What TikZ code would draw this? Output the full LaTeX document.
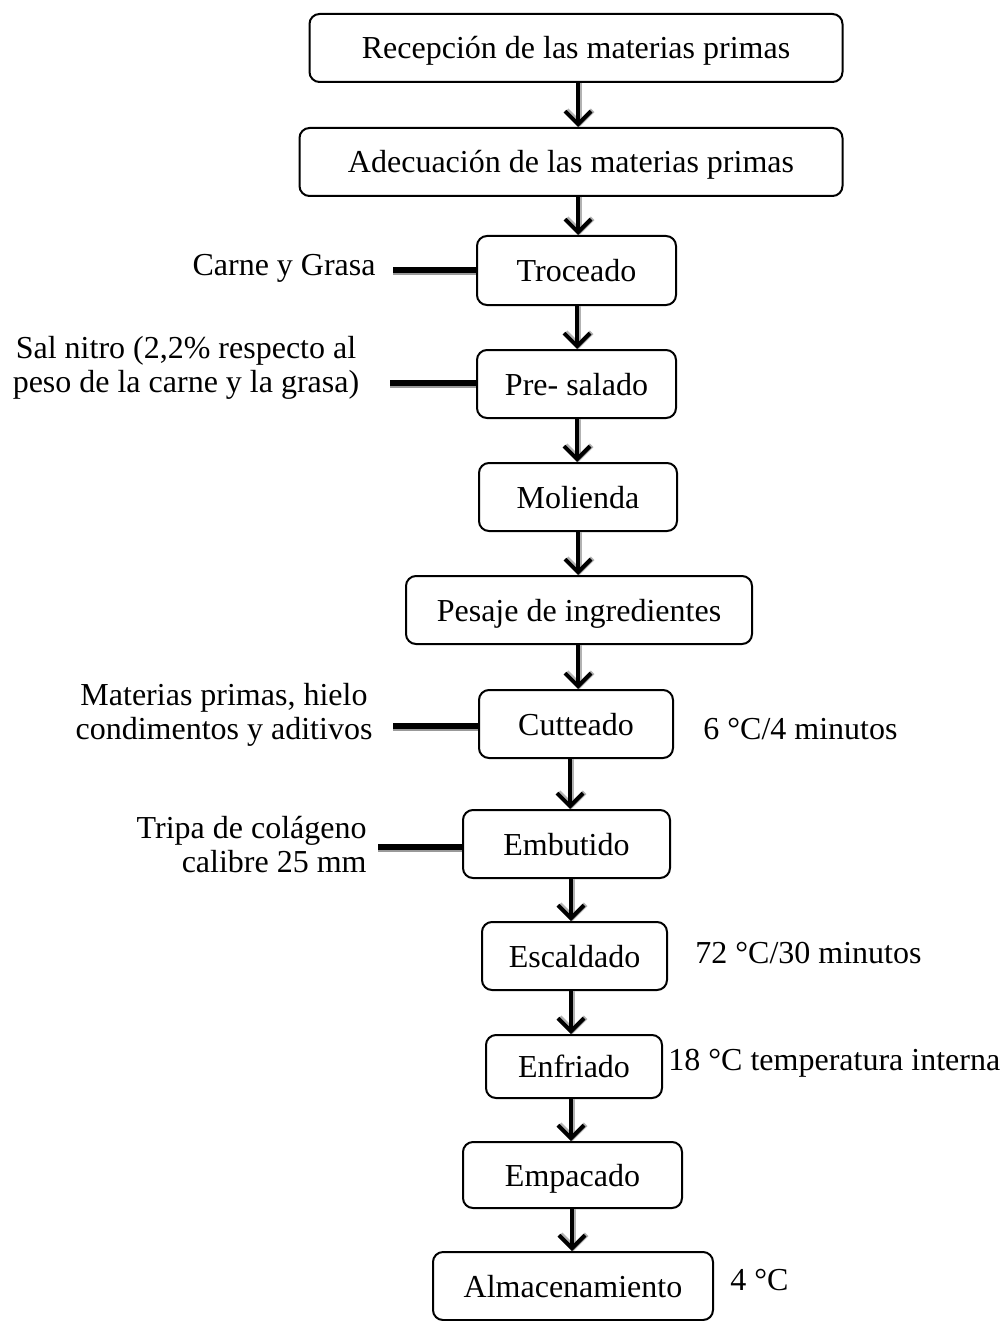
\documentclass[tikz,border=0pt]{standalone}
\usepackage{fontspec}
\setmainfont{Liberation Serif}
\usetikzlibrary{arrows.meta,calc}
\begin{document}
\begin{tikzpicture}[x=0.5pt,y=-0.5pt,
  font=\fontsize{16pt}{17pt}\selectfont,
  box/.style={draw=black, line width=1pt, rounded corners=5pt, inner sep=0pt, align=center, text height=13pt, text depth=2pt},
  arr/.style={line width=2pt, -{Straight Barb[length=6.5pt,width=13pt]}},
  arrshadow/.style={line width=2.6pt, draw=black!30, -{Straight Barb[length=6.5pt,width=13pt]}},
  feed/.style={line width=2.6pt},
  feedshadow/.style={line width=2pt, draw=black!40},
  lbl/.style={inner sep=0pt}]
\useasboundingbox (0,0) rectangle (1003,1321);
% process boxes
\node[box, minimum width=266.5pt, minimum height=34pt] (n1) at (576,48) {Recepción de las materias primas};
\node[box, minimum width=271.5pt, minimum height=34pt] (n2) at (571,162) {Adecuación de las materias primas};
\node[box, minimum width=99.5pt, minimum height=34.5pt] (n3) at (576.5,270.5) {Troceado};
\node[box, minimum width=99.5pt, minimum height=34pt] (n4) at (576.5,384) {Pre- salado};
\node[box, minimum width=99pt, minimum height=34pt] (n5) at (578,497) {Molienda};
\node[box, minimum width=173pt, minimum height=34pt] (n6) at (579,610) {Pesaje de ingredientes};
\node[box, minimum width=97pt, minimum height=34pt] (n7) at (576,724) {Cutteado};
\node[box, minimum width=103.5pt, minimum height=34pt] (n8) at (566.5,844) {Embutido};
\node[box, minimum width=92.5pt, minimum height=34pt] (n9) at (574.5,956) {Escaldado};
\node[box, minimum width=88pt, minimum height=31.5pt] (n10) at (574,1066.5) {Enfriado};
\node[box, minimum width=109.5pt, minimum height=33pt] (n11) at (572.5,1175) {Empacado};
\node[box, minimum width=140pt, minimum height=34pt] (n12) at (573,1286) {Almacenamiento};
% arrows
\foreach \a/\b/\dx in {n1/n2/2, n2/n3/7, n3/n4/0.5, n4/n5/0.5, n5/n6/0, n6/n7/-1, n7/n8/-6, n8/n9/4.5, n9/n10/-3.5, n10/n11/-3, n11/n12/-0.5}{
  \draw[arrshadow] ([xshift=\dx*0.5pt+0.8pt]\a.south) -- ([xshift=\dx*0.5pt+0.8pt]\a.south |- \b.north);
  \draw[arr] ([xshift=\dx*0.5pt]\a.south) -- ([xshift=\dx*0.5pt]\a.south |- \b.north);
}
% input labels
\node[lbl, anchor=east] (l3) at (376,268) {Carne y Grasa};
\node[lbl, align=center] (l4) at (186,368) {Sal nitro (2,2\% respecto al\\peso de la carne y la grasa)};
\node[lbl, align=center] (l7) at (224,715) {Materias primas, hielo\\condimentos y aditivos};
\node[lbl, align=right, anchor=east] (l8) at (367,845) {Tripa de colágeno\\calibre 25 mm};
% input lines
\coordinate (f3) at (393,270);
\coordinate (f4) at (390,383);
\coordinate (f7) at (393,726);
\coordinate (f8) at (378,847);
\foreach \f/\n in {f3/n3, f4/n4, f7/n7, f8/n8}{
  \draw[feedshadow] ([yshift=-1.6pt]\f) -- ([yshift=-1.6pt]\f -| \n.west);
  \draw[feed] (\f) -- (\f -| \n.west);
}
% side notes
\node[lbl, anchor=west] (r7) at (703,729) {6 °C/4 minutos};
\node[lbl, anchor=west] (r9) at (695,953) {72 °C/30 minutos};
\node[lbl, anchor=west] (r10) at (668,1063) {18 °C temperatura interna};
\node[lbl, anchor=west] (r12) at (730,1280) {4 °C};
\end{tikzpicture}
\end{document}
